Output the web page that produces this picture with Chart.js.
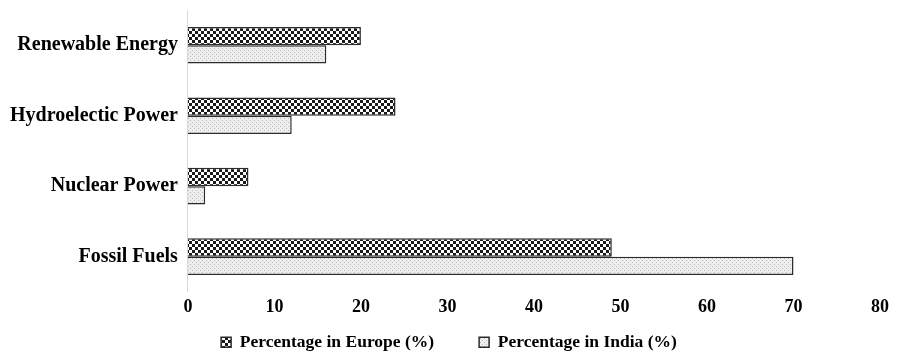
<!DOCTYPE html>
<html>
<head>
<meta charset="utf-8">
<script src="https://cdn.jsdelivr.net/npm/chart.js@4/dist/chart.umd.min.js"></script>
<style>
  body { margin: 0; background: #fff; overflow: hidden; }
  #wrap { width: 898px; height: 355px; position: relative; top: -2px; }
</style>
</head>
<body>
<div id="wrap"><canvas id="myChart"></canvas></div>
<script>
const categories = ['Renewable Energy', 'Hydroelectic Power', 'Nuclear Power', 'Fossil Fuels'];
const europeValues = [20, 24, 7, 49];
const indiaValues = [16, 12, 2, 70];
const seriesNames = ['Percentage in Europe (%)', 'Percentage in India (%)'];
const xTicks = [0, 10, 20, 30, 40, 50, 60, 70, 80];

// checker pattern for Europe
function checkerPattern() {
  const c = document.createElement('canvas');
  c.width = 6; c.height = 6;
  const g = c.getContext('2d');
  g.fillStyle = '#fff';
  g.fillRect(0, 0, 6, 6);
  g.fillStyle = '#1a1a1a';
  g.fillRect(0, 0, 3, 3);
  g.fillRect(3, 3, 3, 3);
  return g.createPattern(c, 'repeat');
}

// fine dotted pattern for India
function dotPattern() {
  const c = document.createElement('canvas');
  c.width = 4; c.height = 4;
  const g = c.getContext('2d');
  g.fillStyle = '#eeeeee';
  g.fillRect(0, 0, 4, 4);
  g.fillStyle = '#bdbdbd';
  g.fillRect(0, 0, 1, 1);
  g.fillRect(2, 2, 1, 1);
  return g.createPattern(c, 'repeat');
}

const serif = 'Liberation Serif';

const ctx = document.getElementById('myChart').getContext('2d');
new Chart(ctx, {
  type: 'bar',
  data: {
    labels: categories,
    datasets: [
      {
        label: seriesNames[0],
        data: europeValues,
        backgroundColor: checkerPattern(),
        borderColor: '#2b2b2b',
        borderWidth: 1.5,
        categoryPercentage: 0.52,
        barPercentage: 1.0
      },
      {
        label: seriesNames[1],
        data: indiaValues,
        backgroundColor: dotPattern(),
        borderColor: '#2b2b2b',
        borderWidth: 1.5,
        categoryPercentage: 0.52,
        barPercentage: 1.0
      }
    ]
  },
  options: {
    indexAxis: 'y',
    responsive: true,
    maintainAspectRatio: false,
    animation: false,
    layout: { padding: { top: 0, right: 0, left: 0, bottom: -8 } },
    plugins: {
      tooltip: { enabled: false },
      legend: {
        position: 'bottom',
        labels: {
          color: '#000',
          font: { family: serif, size: 17.5, weight: 'bold' },
          boxWidth: 10,
          boxHeight: 10,
          padding: 10,
          // wider gap between the two items, as in the original
          generateLabels: chart => {
            const items = Chart.defaults.plugins.legend.labels.generateLabels(chart);
            items[0].text = items[0].text + '\u00a0'.repeat(8);
            return items;
          }
        }
      }
    },
    scales: {
      x: {
        min: 0,
        max: 80,
        afterBuildTicks: axis => { axis.ticks = xTicks.map(v => ({ value: v })); },
        // keep room on the right for the "80" label without shifting the legend
        afterFit: axis => { axis.paddingRight = 18; },
        grid: { display: false, drawTicks: false },
        border: { display: false },
        ticks: {
          color: '#000',
          padding: 5,
          font: { family: serif, size: 18, weight: 'bold' }
        }
      },
      y: {
        grid: { display: false, drawTicks: false },
        border: { display: true, color: '#d9d9d9', width: 1 },
        ticks: {
          color: '#000',
          padding: 10,
          font: { family: serif, size: 20, weight: 'bold', lineHeight: 0.2 }
        }
      }
    }
  }
});
</script>
</body>
</html>
